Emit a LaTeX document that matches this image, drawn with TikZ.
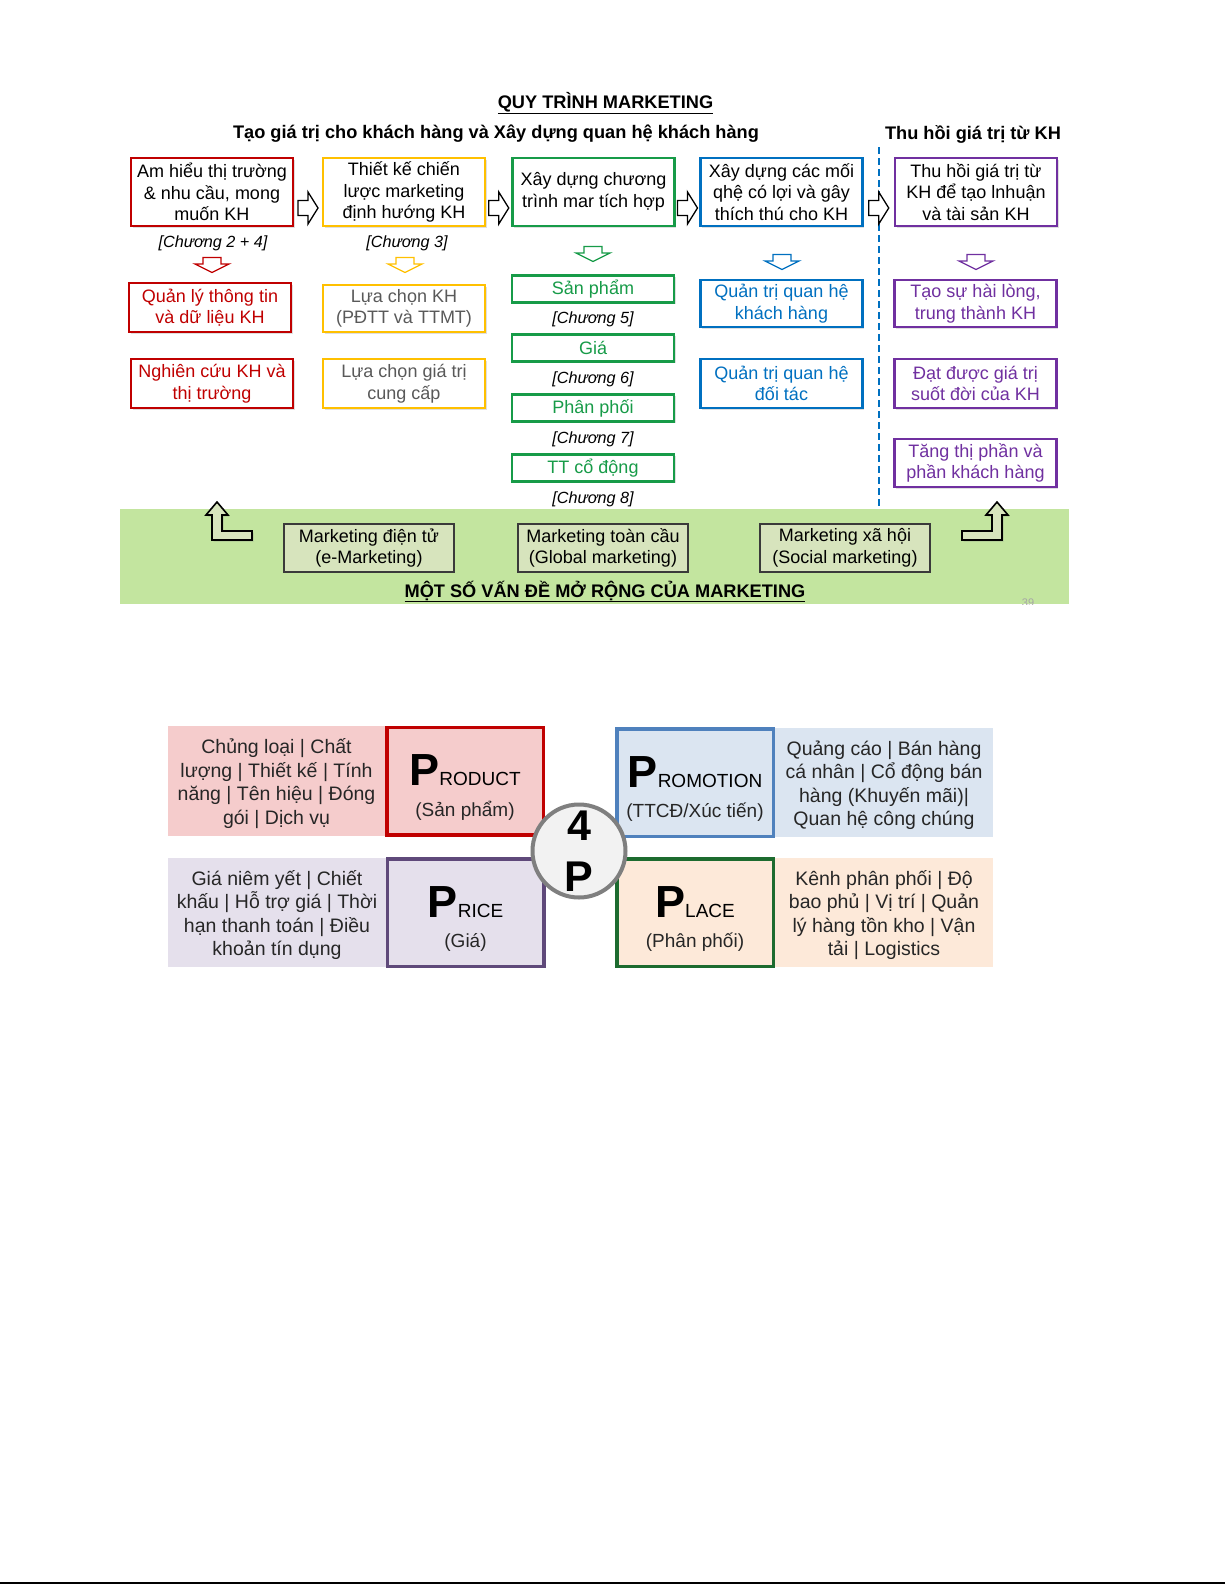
\documentclass[tikz,border=0pt]{standalone}
\usepackage{fontspec}
\setmainfont{Liberation Sans}
\usetikzlibrary{shadows,calc}
\definecolor{cred}{HTML}{C00000}
\definecolor{cyel}{HTML}{FFC000}
\definecolor{cgrn}{HTML}{179B48}
\definecolor{cblu}{HTML}{0070C0}
\definecolor{cpur}{HTML}{7030A0}
\definecolor{cgray}{HTML}{595959}
\definecolor{cband}{HTML}{C3E59F}
\definecolor{cbandbox}{HTML}{D7E4BD}
\definecolor{cbandline}{HTML}{3A3A3A}
\definecolor{fpink}{HTML}{F5CCCC}
\definecolor{flav}{HTML}{E5E0EC}
\definecolor{fblue}{HTML}{DBE5F1}
\definecolor{fpeach}{HTML}{FDE9D9}
\definecolor{bprice}{HTML}{5F497A}
\definecolor{bpromo}{HTML}{4F81BD}
\definecolor{bplace}{HTML}{1D6B2F}
\definecolor{ctext}{HTML}{262626}
\definecolor{ccirc}{HTML}{7F7F7F}
\definecolor{fcirc}{HTML}{F2F2F2}
\tikzset{
  procbox/.style={draw, line width=2.4pt, fill=white, minimum width=162pt, align=center, inner sep=0pt,
    font=\fontsize{18}{21.5}\selectfont,
    drop shadow={shadow xshift=1.5pt, shadow yshift=-1.5pt, opacity=0.25}},
  chuong/.style={font=\fontsize{16.2}{17}\selectfont\itshape, inner sep=0pt},
  bandbox/.style={draw=cbandline, line width=2.5pt, fill=cbandbox, minimum width=170pt, minimum height=48pt,
    align=center, inner sep=0pt, font=\fontsize{18}{21.5}\selectfont},
  descbox/.style={minimum width=217pt, minimum height=109pt, inner sep=0pt, align=center,
    text=ctext, font=\fontsize{19.5}{23.5}\selectfont},
  desctext/.style={inner sep=0pt, align=center, text=ctext, font=\fontsize{19.5}{23.5}\selectfont},
  pbox/.style={line width=3.5pt, minimum width=156.5pt, minimum height=107.5pt, inner sep=0pt},
  ptitle/.style={anchor=base, inner sep=0pt},
  psub/.style={inner sep=0pt, text=ctext, font=\fontsize{19}{22}\selectfont},
  titlefont/.style={font=\fontsize{18.2}{19}\selectfont\bfseries, inner sep=0pt},
  rarr/.pic={\path[fill=white, draw=black, line width=1.3pt, pic actions]
    (-10,-7.5) -- (0,-7.5) -- (0,-16) -- (10,0) -- (0,16) -- (0,7.5) -- (-10,7.5) -- cycle;},
  darr/.pic={\path[fill=white, line width=1.3pt, pic actions]
    (-9,-7.5) -- (9,-7.5) -- (9,-1) -- (17,-1) -- (0,7.5) -- (-17,-1) -- (-9,-1) -- cycle;},
}
\newcommand{\smallcap}[1]{{\fontsize{19}{19}\selectfont #1}}
\newcommand{\bigPfont}{\fontsize{45}{45}\selectfont\bfseries}
\begin{document}
\begin{tikzpicture}[x=1pt,y=-1pt]
\useasboundingbox[fill=white] (0,0) rectangle (1225,1585);

% ---------- titles ----------
\node[titlefont] (title) at (605.5,103) {\underline{QUY TRÌNH MARKETING}};
\node[titlefont] (sub1) at (496,134) {Tạo giá trị cho khách hàng và Xây dựng quan hệ khách hàng};
\node[titlefont] (sub2) at (973,134) {Thu hồi giá trị từ KH};

% ---------- green band ----------
\path[fill=cband] (120,509) rectangle (1069,604);
\begin{scope}
  \clip (120,509) rectangle (1069,604);
  \node[text=gray!70, font=\fontsize{11}{11}\selectfont, inner sep=0pt] (pg) at (1028,603) {39};
\end{scope}

% ---------- dashed separator ----------
\coordinate (dtop) at (879,147);
\coordinate (dbot) at (879,509);
\draw[cblu, line width=2pt, dash pattern=on 7pt off 4pt] (dtop) -- (dbot);

% ---------- top row ----------
\node[procbox, draw=cred, minimum height=68pt] (am) at (212,192) {Am hiểu thị trường\\\& nhu cầu, mong\\muốn KH};
\node[procbox, draw=cyel, minimum height=68pt] (tk) at (404,192) {Thiết kế chiến\\lược marketing\\định hướng KH};
\node[procbox, draw=cgrn, minimum height=68pt] (xd) at (593.5,192) {Xây dựng chương\\trình mar tích hợp};
\node[procbox, draw=cblu, minimum height=68pt] (qh) at (781.5,192) {Xây dựng các mối\\qhệ có lợi và gây\\thích thú cho KH};
\node[procbox, draw=cpur, minimum height=68pt] (th) at (976,192) {Thu hồi giá trị từ\\KH để tạo lnhuận\\và tài sản KH};

\pic at ($(am.east)!0.5!(tk.west)+(0,16)$) {rarr};
\pic at ($(tk.east)!0.5!(xd.west)+(0,16)$) {rarr};
\pic at ($(xd.east)!0.5!(qh.west)+(0,16)$) {rarr};
\pic at ($(qh.east)!0.5!(th.west)+(0,16)$) {rarr};

% chapter labels
\node[chuong] (c24) at (213,243) {[Chương 2 + 4]};
\node[chuong] (c3) at (407,243) {[Chương 3]};

% down arrows
\pic[draw=cred] at (212,265) {darr};
\pic[draw=cyel] at (405,265) {darr};
\pic[draw=cgrn] at (593,254) {darr};
\pic[draw=cblu] at (782,262) {darr};
\pic[draw=cpur] at (976,262) {darr};

% ---------- red column ----------
\node[procbox, draw=cred, text=cred, minimum height=49pt] (ql) at (210,307.5) {Quản lý thông tin\\và dữ liệu KH};
\node[procbox, draw=cred, text=cred, minimum height=49pt] (nc) at (212,383.5) {Nghiên cứu KH và\\thị trường};

% ---------- yellow column ----------
\node[procbox, draw=cyel, text=cgray, minimum height=47pt] (lc) at (404,308.5) {Lựa chọn KH\\(PĐTT và TTMT)};
\node[procbox, draw=cyel, text=cgray, minimum height=49pt] (lg) at (404,383.5) {Lựa chọn giá trị\\cung cấp};

% ---------- green column ----------
\node[procbox, draw=cgrn, text=cgrn, minimum height=27pt] (sp) at (593,289) {Sản phẩm};
\node[chuong] (c5) at (593,319) {[Chương 5]};
\node[procbox, draw=cgrn, text=cgrn, minimum height=27pt] (gia) at (593,348) {Giá};
\node[chuong] (c6) at (593,379) {[Chương 6]};
\node[procbox, draw=cgrn, text=cgrn, minimum height=27pt] (pp) at (593,408) {Phân phối};
\node[chuong] (c7) at (593,439) {[Chương 7]};
\node[procbox, draw=cgrn, text=cgrn, minimum height=27pt] (ttcd) at (593,468) {TT cổ động};
\node[chuong] (c8) at (593,499) {[Chương 8]};

% ---------- blue column ----------
\node[procbox, draw=cblu, text=cblu, minimum height=47pt] (qkh) at (781.5,303.5) {Quản trị quan hệ\\khách hàng};
\node[procbox, draw=cblu, text=cblu, minimum height=49pt] (qdt) at (781.5,383.5) {Quản trị quan hệ\\đối tác};

% ---------- purple column ----------
\node[procbox, draw=cpur, text=cpur, minimum height=47pt] (hl) at (975.5,303.5) {Tạo sự hài lòng,\\trung thành KH};
\node[procbox, draw=cpur, text=cpur, minimum height=49pt] (sd) at (975.5,383.5) {Đạt được giá trị\\suốt đời của KH};
\node[procbox, draw=cpur, text=cpur, minimum height=48pt] (tp) at (975.5,463) {Tăng thị phần và\\phần khách hàng};

% ---------- band content ----------
\draw[fill=cbandbox, line width=1.6pt, drop shadow={shadow xshift=1.5pt, shadow yshift=-1.5pt, opacity=0.3}]
  (217,502) -- (228,515) -- (222,515) -- (222,531) -- (252,531) -- (252,540) -- (212,540) -- (212,515) -- (206,515) -- cycle;
\draw[fill=cbandbox, line width=1.6pt, drop shadow={shadow xshift=1.5pt, shadow yshift=-1.5pt, opacity=0.3}]
  (997,502) -- (1008,515) -- (1002,515) -- (1002,540) -- (962,540) -- (962,531) -- (992,531) -- (992,515) -- (986,515) -- cycle;

\node[bandbox] (em) at (369,548) {Marketing điện tử\\(e-Marketing)};
\node[bandbox] (gm) at (603,548) {Marketing toàn cầu\\(Global marketing)};
\node[bandbox] (sm) at (845,548) {Marketing xã hội\\(Social marketing)};
\node[titlefont] (bandtitle) at (605,591.5) {\underline{MỘT SỐ VẤN ĐỀ MỞ RỘNG CỦA MARKETING}};

% ---------- 4P ----------
\node[descbox, fill=fpink, minimum width=217pt, minimum height=110pt] (proddesc) at (276.5,781) {};
\node[descbox, fill=flav, minimum width=218pt, minimum height=109pt] (pricedesc) at (277,912.5) {};
\node[descbox, fill=fblue, minimum width=218pt, minimum height=109pt] (promodesc) at (884,782.5) {};
\node[descbox, fill=fpeach, minimum width=218pt, minimum height=109pt] (placedesc) at (884,912.5) {};
\node[desctext] (proddesct) at ($(proddesc.center)+(0,2.5)$)
  {Chủng loại | Chất\\lượng | Thiết kế | Tính\\năng | Tên hiệu | Đóng\\gói | Dịch vụ};
\node[desctext] (pricedesct) at ($(pricedesc.center)+(0,2.5)$)
  {Giá niêm yết | Chiết\\khấu | Hỗ trợ giá | Thời\\hạn thanh toán | Điều\\khoản tín dụng};
\node[desctext] (promodesct) at ($(promodesc.center)+(0,2.5)$)
  {Quảng cáo | Bán hàng\\cá nhân | Cổ động bán\\hàng (Khuyến mãi)|\\Quan hệ công chúng};
\node[desctext] (placedesct) at ($(placedesc.center)+(0,2.5)$)
  {Kênh phân phối | Độ\\bao phủ | Vị trí | Quản\\lý hàng tồn kho | Vận\\tải | Logistics};

\node[pbox, draw=cred, fill=fpink] (prod) at (465,781) {};
\node[pbox, draw=bprice, fill=flav] (price) at (465.5,912.5) {};
\node[pbox, draw=bpromo, fill=fblue] (promo) at (695,782.5) {};
\node[pbox, draw=bplace, fill=fpeach] (place) at (695,912.5) {};

\node[ptitle] (prodt) at ($(prod.north)+(0,60)$) {{\bigPfont P}\smallcap{RODUCT}};
\node[psub] (prods) at ($(prod.north)+(0,85.5)$) {(Sản phẩm)};
\node[ptitle] (pricet) at ($(price.north)+(0,60)$) {{\bigPfont P}\smallcap{RICE}};
\node[psub] (prices) at ($(price.north)+(0,85.5)$) {(Giá)};
\node[ptitle] (promot) at ($(promo.north)+(0,60)$) {{\bigPfont P}\smallcap{ROMOTION}};
\node[psub] (promos) at ($(promo.north)+(0,85.5)$) {(TTCĐ/Xúc tiến)};
\node[ptitle] (placet) at ($(place.north)+(0,60)$) {{\bigPfont P}\smallcap{LACE}};
\node[psub] (places) at ($(place.north)+(0,85.5)$) {(Phân phối)};

\node[circle, draw=ccirc, line width=4pt, fill=fcirc, minimum size=93pt, inner sep=0pt] (four) at (579,851) {};
\node[font=\fontsize{43}{43}\selectfont\bfseries, inner sep=0pt] (fourA) at (579,826) {4};
\node[font=\fontsize{43}{43}\selectfont\bfseries, inner sep=0pt] (fourB) at (579,877) {P};

% ---------- bottom rule ----------
\coordinate (bl) at (0,1583);
\coordinate (br) at (1225,1583);
\draw[line width=2pt] (bl) -- (br);
\end{tikzpicture}
\end{document}
